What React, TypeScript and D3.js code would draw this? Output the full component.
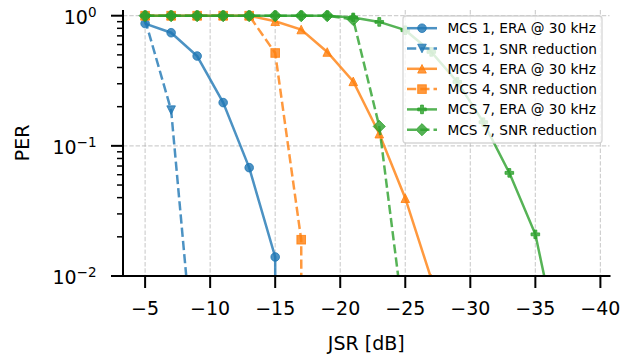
import React from "react";
import * as d3 from "d3";

const jsr = [-5, -7, -9, -11, -13, -15, -17, -19, -21, -23, -25, -27, -29, -31, -33, -35, -37, -39];
const mcs1Era = [0.87, 0.74, 0.49, 0.215, 0.068, 0.014, 0, 0, 0, 0, 0, 0, 0, 0, 0, 0, 0, 0];
const mcs1Snr = [0.93, 0.188, 0.0012, 0, 0, 0, 0, 0, 0, 0, 0, 0, 0, 0, 0, 0, 0, 0];
const mcs4Era = [1, 1, 1, 1, 1, 0.907, 0.783, 0.526, 0.313, 0.124, 0.0396, 0.0095, 0, 0, 0, 0, 0, 0];
const mcs4Snr = [1, 1, 1, 1, 1, 0.517, 0.019, 0, 0, 0, 0, 0, 0, 0, 0, 0, 0, 0];
const mcs7Era = [1, 1, 1, 1, 1, 1, 1, 1, 0.97, 0.896, 0.774, 0.527, 0.31, 0.152, 0.062, 0.0209, 0.0024, 0];
const mcs7Snr = [1, 1, 1, 1, 1, 1, 1, 1, 0.935, 0.141, 0.0037, 0, 0, 0, 0, 0, 0, 0];

const seriesNames = [
  "MCS 1, ERA @ 30 kHz",
  "MCS 1, SNR reduction",
  "MCS 4, ERA @ 30 kHz",
  "MCS 4, SNR reduction",
  "MCS 7, ERA @ 30 kHz",
  "MCS 7, SNR reduction",
];
const seriesValues = [mcs1Era, mcs1Snr, mcs4Era, mcs4Snr, mcs7Era, mcs7Snr];
const seriesColors = ["#1f77b4", "#1f77b4", "#ff7f0e", "#ff7f0e", "#2ca02c", "#2ca02c"];
const seriesDashed = [false, true, false, true, false, true];
const seriesMarkers = ["circle", "tdown", "tup", "square", "plus", "diamond"];

const xTicks = [-5, -10, -15, -20, -25, -30, -35, -40];
const yMajor = [1, 0.1, 0.01];
const yMajorExp = ["0", "−1", "−2"];

const FONT = "DejaVu Sans, sans-serif";
const L = 123, R = 609.5, T = 10, B = 276;
const MS = 8.6;

function Marker({ kind, x, y, color }: { kind: string; x: number; y: number; color: string }) {
  const h = MS / 2;
  const common = { fill: color, stroke: color, strokeWidth: 1, fillOpacity: 0.8, strokeOpacity: 0.8 } as any;
  if (kind === "circle") return <circle cx={x} cy={y} r={h} {...common} />;
  if (kind === "square") return <rect x={x - h} y={y - h} width={MS} height={MS} {...common} />;
  if (kind === "tup")
    return <path d={`M${x},${y - h}L${x + h},${y + h}L${x - h},${y + h}Z`} {...common} />;
  if (kind === "tdown")
    return <path d={`M${x},${y + h}L${x + h},${y - h}L${x - h},${y - h}Z`} {...common} />;
  if (kind === "diamond") {
    const d = MS * 0.707;
    return <path d={`M${x},${y - d}L${x + d},${y}L${x},${y + d}L${x - d},${y}Z`} {...common} />;
  }
  // filled plus
  const a = MS / 6;
  const p = [
    [-a, -h], [a, -h], [a, -a], [h, -a], [h, a], [a, a], [a, h], [-a, h], [-a, a], [-h, a], [-h, -a], [-a, -a],
  ];
  return <path d={"M" + p.map((q) => `${x + q[0]},${y + q[1]}`).join("L") + "Z"} {...common} />;
}

export default function App() {
  const x = d3.scaleLinear().domain([-3.3, -40.7]).range([L, R]);
  const y = d3.scaleLog().domain([0.01, 1]).range([B, 15.7]).clamp(false);
  const yv = (v: number) => y(Math.max(v, 1e-100));
  const line = d3
    .line<[number, number]>()
    .x((d) => x(d[0]))
    .y((d) => yv(d[1]));

  const minor: number[] = [];
  [0.01, 0.1].forEach((dec) => {
    for (let k = 2; k <= 9; k++) minor.push(dec * k);
  });

  const legX = 403, legY = 16, legW = 199, legH = 127;
  const rowH = 20.3;

  return (
    <svg width={643} height={358} style={{ position: "absolute", left: 0, top: 0 }}>
      <defs>
        <clipPath id="plotclip">
          <rect x={L} y={T} width={R - L} height={B - T} />
        </clipPath>
      </defs>
      <rect x={0} y={0} width={643} height={358} fill="#fff" />
      {/* grid */}
      <g stroke="#b0b0b0" strokeOpacity={0.6} strokeWidth={1.2} strokeDasharray="4.4,1.9">
        {xTicks.map((t) => (
          <line key={"gx" + t} x1={x(t)} x2={x(t)} y1={T} y2={B} />
        ))}
        {yMajor.slice(0, 2).map((t) => (
          <line key={"gy" + t} x1={L} x2={R} y1={y(t)} y2={y(t)} />
        ))}
      </g>
      {/* series */}
      <g clipPath="url(#plotclip)">
        {seriesValues.map((vals, i) => {
          const pts = jsr.map((j, k) => [j, vals[k]] as [number, number]);
          return (
            <g key={"s" + i}>
              <path
                d={line(pts) || ""}
                fill="none"
                stroke={seriesColors[i]}
                strokeOpacity={0.8}
                strokeWidth={2.5}
                strokeDasharray={seriesDashed[i] ? "9.25,4" : undefined}
              />
              {pts
                .filter((p) => p[1] > 0)
                .map((p, k) => (
                  <Marker key={k} kind={seriesMarkers[i]} x={x(p[0])} y={yv(p[1])} color={seriesColors[i]} />
                ))}
            </g>
          );
        })}
      </g>
      {/* spines */}
      <line x1={L} x2={L} y1={T} y2={B + 1} stroke="#000" strokeWidth={2} />
      <line x1={L - 1} x2={R + 1} y1={B} y2={B} stroke="#000" strokeWidth={2} />
      {/* x ticks */}
      {xTicks.map((t) => (
        <g key={"xt" + t}>
          <line x1={x(t)} x2={x(t)} y1={B} y2={B + 12} stroke="#000" strokeWidth={2} />
          <text x={x(t)} y={315} textAnchor="middle" fontFamily={FONT} fontSize={19} fill="#000">
            {String(t).replace("-", "−")}
          </text>
        </g>
      ))}
      {/* y ticks */}
      {yMajor.map((t, i) => (
        <g key={"yt" + t}>
          <line x1={L - 12} x2={L} y1={y(t)} y2={y(t)} stroke="#000" strokeWidth={2} />
          <text x={96.5} y={y(t) + 8.3} textAnchor="end" fontFamily={FONT} fontSize={19} fill="#000">
            <tspan>10</tspan>
            <tspan dy={-7.5} fontSize={13.5}>
              {yMajorExp[i]}
            </tspan>
          </text>
        </g>
      ))}
      {minor.map((t) => (
        <line key={"ym" + t} x1={L - 6} x2={L} y1={y(t)} y2={y(t)} stroke="#000" strokeWidth={1.5} />
      ))}
      {/* axis labels */}
      <text x={(L + R) / 2} y={350} textAnchor="middle" fontFamily={FONT} fontSize={19} fill="#000">
        JSR [dB]
      </text>
      <text
        transform={`translate(28.5,${(T + B) / 2}) rotate(-90)`}
        textAnchor="middle"
        fontFamily={FONT}
        fontSize={19}
        fill="#000"
      >
        PER
      </text>
      {/* legend */}
      <rect
        x={legX}
        y={legY}
        width={legW}
        height={legH}
        rx={3}
        fill="#fff"
        fillOpacity={0.8}
        stroke="#cccccc"
        strokeOpacity={0.8}
        strokeWidth={1.3}
      />
      {seriesNames.map((n, i) => {
        const cy = 28.2 + i * rowH;
        return (
          <g key={"lg" + i}>
            <line
              x1={407}
              x2={437}
              y1={cy}
              y2={cy}
              stroke={seriesColors[i]}
              strokeOpacity={0.8}
              strokeWidth={2.5}
              strokeDasharray={seriesDashed[i] ? "9.25,4" : undefined}
            />
            <Marker kind={seriesMarkers[i]} x={422} y={cy} color={seriesColors[i]} />
            <text x={447.5} y={cy + 5} fontFamily={FONT} fontSize={13.7} fill="#000">
              {n}
            </text>
          </g>
        );
      })}
    </svg>
  );
}
